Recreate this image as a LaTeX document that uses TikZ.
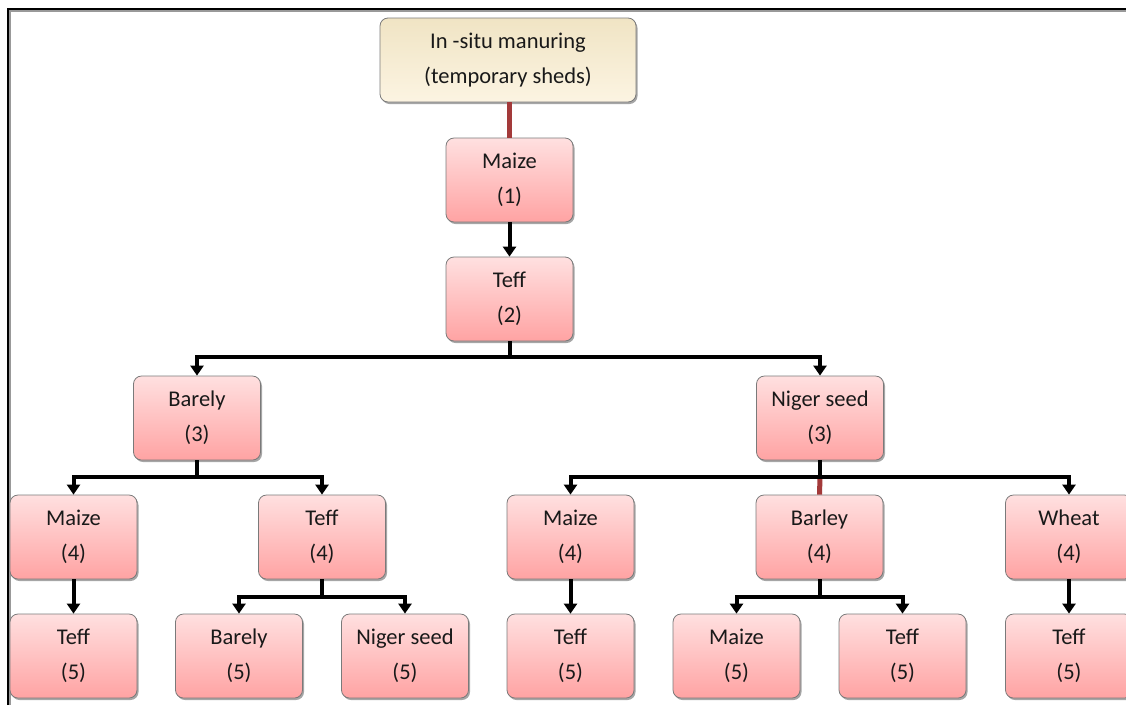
\documentclass[tikz,border=0pt]{standalone}
\usepackage{fontspec}
\setmainfont{Carlito}
\usetikzlibrary{arrows.meta,shadows,calc}
\definecolor{boxtop}{HTML}{FFE0E0}
\definecolor{boxbot}{HTML}{FFA3A3}
\definecolor{begtop}{HTML}{F0E4C4}
\definecolor{begbot}{HTML}{FCF4E2}
\definecolor{redline}{HTML}{A33A3A}
\definecolor{boxline}{HTML}{7A7A7A}
\tikzset{
  cropbox/.style={draw=boxline, line width=0.8pt, rounded corners=8pt,
    top color=boxtop, bottom color=boxbot,
    minimum width=127pt, minimum height=84pt, inner sep=0pt,
    align=center, text=black!90, font=\fontsize{22.5}{35}\selectfont,
    drop shadow={shadow xshift=1.5pt, shadow yshift=-2pt, opacity=0.35, fill=black}},
  rootbox/.style={cropbox, top color=begtop, bottom color=begbot, minimum width=256pt},
  link/.style={line width=4pt, black},
  arr/.style={link, -{Triangle[width=13pt,length=10pt]}, shorten >=0pt},
  redlink/.style={line width=5pt, redline}
}
\begin{document}
\begin{tikzpicture}[x=1pt,y=-1pt]
\useasboundingbox (0,0) rectangle (1126,705);
\fill[white] (0,0) rectangle (1126,705);
% frame
\draw[line width=3pt, black!40] (9.5,705) -- (9.5,10.5) -- (1130,10.5);
\draw[line width=2pt, black] (8,705) -- (8,9) -- (1130,9);

% nodes
\node[rootbox] (root) at (508,60) {In -situ manuring\\(temporary sheds)};
\node[cropbox] (m1) at (509.5,180) {Maize\\(1)};
\node[cropbox] (t2) at (509.5,299) {Teff\\(2)};
\node[cropbox] (b3) at (197,418) {Barely\\(3)};
\node[cropbox] (n3) at (820,418) {Niger seed\\(3)};
\node[cropbox] (m4a) at (73.5,537) {Maize\\(4)};
\node[cropbox] (t4) at (322,537) {Teff\\(4)};
\node[cropbox] (m4b) at (570.5,537) {Maize\\(4)};
\node[cropbox] (b4) at (819.5,537) {Barley\\(4)};
\node[cropbox] (w4) at (1069,537) {Wheat\\(4)};
\node[cropbox] (t5a) at (73.5,656) {Teff\\(5)};
\node[cropbox] (b5) at (239,656) {Barely\\(5)};
\node[cropbox] (n5) at (405,656) {Niger seed\\(5)};
\node[cropbox] (t5b) at (570.5,656) {Teff\\(5)};
\node[cropbox] (m5) at (736.5,656) {Maize\\(5)};
\node[cropbox] (t5c) at (902.5,656) {Teff\\(5)};
\node[cropbox] (t5d) at (1069,656) {Teff\\(5)};

% junction coordinates
\coordinate (j2) at (509.5,357);
\coordinate (jb3) at (197,477);
\coordinate (jn3) at (820,477);
\coordinate (jt4) at (322,597);
\coordinate (jb4) at (819.5,597);

% connectors
\draw[redlink] (m1.north |- root.south) -- (m1.north);
\draw[arr] (m1.south) -- (t2.north);

\draw[link] (t2.south) -- (j2);
\draw[arr] (j2) -| (b3.north);
\draw[arr] (j2) -| (n3.north);

\draw[link] (b3.south) -- (jb3);
\draw[arr] (jb3) -| (m4a.north);
\draw[arr] (jb3) -| (t4.north);

\draw[redlink] (jn3) -- (b4.north);
\draw[link] (n3.south) -- (jn3);
\draw[arr] (jn3) -| (m4b.north);
\draw[arr] (jn3) -| (w4.north);

\draw[arr] (m4a.south) -- (t5a.north);
\draw[link] (t4.south) -- (jt4);
\draw[arr] (jt4) -| (b5.north);
\draw[arr] (jt4) -| (n5.north);
\draw[arr] (m4b.south) -- (t5b.north);
\draw[link] (b4.south) -- (jb4);
\draw[arr] (jb4) -| (m5.north);
\draw[arr] (jb4) -| (t5c.north);
\draw[arr] (w4.south) -- (t5d.north);
\end{tikzpicture}
\end{document}
